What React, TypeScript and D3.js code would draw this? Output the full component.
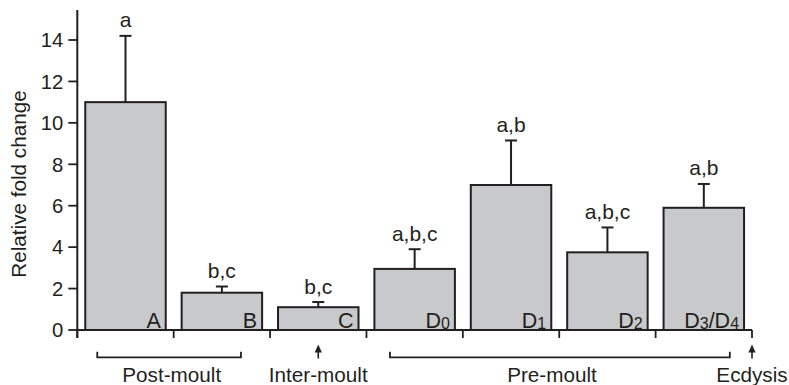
import React from "react";
import * as d3 from "d3";

// Moult-cycle stages and relative fold change (mean, upper error)
const stages = ["A", "B", "C", "D0", "D1", "D2", "D3/D4"];
const means = [11.0, 1.8, 1.1, 2.95, 7.0, 3.75, 5.9];
const errors = [3.2, 0.3, 0.25, 0.95, 2.15, 1.2, 1.15];
const groupLetters = ["a", "b,c", "b,c", "a,b,c", "a,b", "a,b,c", "a,b"];
const yTicks = [0, 2, 4, 6, 8, 10, 12, 14];

// Phase annotations below the axis, positioned in band units
const brackets = [
  { label: "Post-moult", from: 0.207, to: 1.698, textAt: 0.98 },
  { label: "Pre-moult", from: 3.244, to: 6.77, textAt: 4.925 },
];
const arrows = [
  { label: "Inter-moult", at: 2.5 },
  { label: "Ecdysis", at: 7.0 },
];

const W = 789;
const H = 385;
const FONT = "'Liberation Sans', Arial, Helvetica, sans-serif";
const INK = "#231f20";
const BAR_FILL = "#c8c9cb";

function stageParts(s: string) {
  // split into plain text and subscript digits
  return s
    .split(/(\d)/)
    .filter((p) => p.length > 0)
    .map((p) => ({ text: p, sub: /\d/.test(p) }));
}

export default function App() {
  const x0 = 77.3;
  const x1 = 752;
  const x = d3
    .scaleBand<string>()
    .domain(stages)
    .range([x0, x1])
    .paddingInner(0.165)
    .paddingOuter(0.0825);
  const step = x.step();
  const bw = x.bandwidth();
  const y = d3.scaleLinear().domain([0, 14]).range([330, 40]);
  const y0 = y(0);
  const bandPos = (u: number) => x0 + u * step;
  const boundaries = d3.range(stages.length + 1).map((i) => bandPos(i));

  return (
    <svg
      width={W}
      height={H}
      style={{ position: "absolute", left: 0, top: 0, background: "#fff" }}
      fontFamily={FONT}
    >
      {/* y axis */}
      <line x1={x0} x2={x0} y1={10} y2={y0 + 8} stroke={INK} strokeWidth={2} />
      {yTicks.map((t) => (
        <g key={t}>
          <line x1={x0 - 9} x2={x0} y1={y(t)} y2={y(t)} stroke={INK} strokeWidth={1.8} />
          <text
            x={x0 - 14}
            y={y(t)}
            dy="0.36em"
            textAnchor="end"
            fontSize={20.3}
            fill={INK}
          >
            {t}
          </text>
        </g>
      ))}
      <text
        transform={`translate(26,184) rotate(-90)`}
        textAnchor="middle"
        fontSize={20.7}
        fill={INK}
      >
        Relative fold change
      </text>

      {/* x axis with boundary ticks */}
      <line x1={x0} x2={x1} y1={y0} y2={y0} stroke={INK} strokeWidth={2} />
      {boundaries.map((bx, i) => (
        <line key={i} x1={bx} x2={bx} y1={y0} y2={y0 + 8} stroke={INK} strokeWidth={1.8} />
      ))}

      {/* bars, error bars and labels */}
      {stages.map((s, i) => {
        const bx = x(s)!;
        const cx = bx + bw / 2;
        const top = y(means[i]);
        const errTop = y(means[i] + errors[i]);
        return (
          <g key={s}>
            <line x1={cx} x2={cx} y1={top} y2={errTop} stroke={INK} strokeWidth={2} />
            <line x1={cx - 6} x2={cx + 6} y1={errTop} y2={errTop} stroke={INK} strokeWidth={2} />
            <rect
              x={bx}
              y={top}
              width={bw}
              height={y0 - top}
              fill={BAR_FILL}
              stroke={INK}
              strokeWidth={2}
            />
            <text
              x={cx}
              y={errTop - 8.5}
              textAnchor="middle"
              fontSize={21}
              fill={INK}
            >
              {groupLetters[i]}
            </text>
            <text
              x={bx + bw - 5}
              y={y0 - 2.3}
              textAnchor="end"
              fontSize={21.5}
              fill={INK}
            >
              {stageParts(s).map((p, k) => (
                <tspan
                  key={k}
                  fontSize={p.sub ? 16 : 21.5}
                  dy={p.sub ? 1.2 : k > 0 ? -1.2 : 0}
                >
                  {p.text}
                </tspan>
              ))}
            </text>
          </g>
        );
      })}

      {/* phase brackets */}
      {brackets.map((b) => {
        const a = bandPos(b.from);
        const c = bandPos(b.to);
        return (
          <g key={b.label}>
            <path
              d={`M${a},351.7V357.3H${c}V351.7`}
              fill="none"
              stroke={INK}
              strokeWidth={1.8}
            />
            <text x={bandPos(b.textAt)} y={381.5} textAnchor="middle" fontSize={20.7} fill={INK}>
              {b.label}
            </text>
          </g>
        );
      })}

      {/* event arrows */}
      {arrows.map((a) => {
        const ax = bandPos(a.at);
        return (
          <g key={a.label}>
            <line x1={ax} x2={ax} y1={351} y2={358.5} stroke={INK} strokeWidth={1.6} />
            <path d={`M${ax - 3.6},352.5L${ax},344.5L${ax + 3.6},352.5Z`} fill={INK} />
            <text x={ax} y={381.5} textAnchor="middle" fontSize={20.7} fill={INK}>
              {a.label}
            </text>
          </g>
        );
      })}
    </svg>
  );
}
